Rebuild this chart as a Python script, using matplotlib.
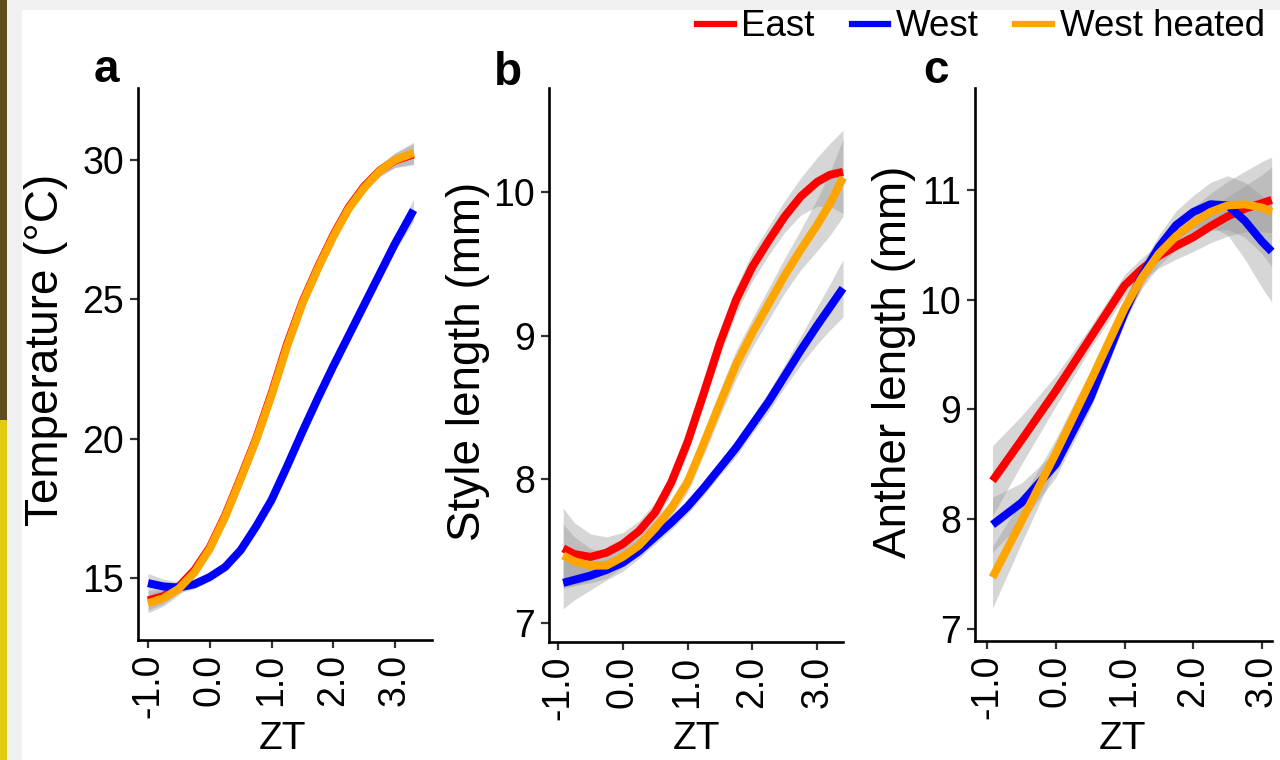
import matplotlib
matplotlib.use('Agg')
import matplotlib.pyplot as plt
from matplotlib.patches import Rectangle
from matplotlib.lines import Line2D

REGULAR = ['Liberation Sans', 'DejaVu Sans']
plt.rcParams['font.family'] = REGULAR

GROUPS = ['East', 'West', 'West heated']
COLORS = ['#ff0000', '#0000ff', '#ffa500']

ZT_TICKS = [-1.0, 0.0, 1.0, 2.0, 3.0]
ZT_LABELS = ['-1.0', '0.0', '1.0', '2.0', '3.0']

# a: temperature
zt_a = [-1.0, -0.75, -0.5, -0.25, 0.0, 0.25, 0.5, 0.75, 1.0, 1.25, 1.5, 1.75,
        2.0, 2.25, 2.5, 2.75, 3.0, 3.3]
temp_east = [14.2, 14.35, 14.7, 15.28, 16.1, 17.25, 18.6, 20.0, 21.62, 23.38, 24.9,
             26.15, 27.3, 28.3, 29.05, 29.62, 29.98, 30.2]
temp_west = [14.82, 14.7, 14.66, 14.78, 15.04, 15.4, 16.0, 16.85, 17.8, 19.0, 20.25,
             21.45, 22.6, 23.7, 24.8, 25.9, 27.0, 28.2]
temp_heated = [14.1, 14.28, 14.62, 15.2, 16.05, 17.2, 18.55, 19.95, 21.55, 23.3, 24.85,
               26.1, 27.25, 28.25, 29.0, 29.6, 30.0, 30.25]
temp_se_east = [0.35, 0.28, 0.22, 0.18, 0.15, 0.14, 0.13, 0.13, 0.13, 0.13, 0.13,
                0.13, 0.14, 0.15, 0.17, 0.2, 0.26, 0.38]
temp_se_west = [0.35, 0.26, 0.2, 0.16, 0.14, 0.13, 0.12, 0.12, 0.12, 0.12, 0.12,
                0.13, 0.14, 0.15, 0.17, 0.2, 0.26, 0.4]
temp_se_heated = [0.35, 0.28, 0.22, 0.18, 0.15, 0.14, 0.13, 0.13, 0.13, 0.13, 0.13,
                  0.13, 0.14, 0.15, 0.17, 0.2, 0.26, 0.38]

# b: style length
zt_b = [-0.92, -0.75, -0.5, -0.25, 0.0, 0.25, 0.5, 0.75, 1.0, 1.25, 1.5, 1.75,
        2.0, 2.25, 2.5, 2.75, 3.0, 3.2, 3.4]
style_east = [7.52, 7.48, 7.46, 7.49, 7.55, 7.64, 7.77, 7.98, 8.26, 8.6, 8.95, 9.25,
              9.48, 9.66, 9.83, 9.97, 10.07, 10.12, 10.14]
style_west = [7.28, 7.3, 7.33, 7.37, 7.42, 7.5, 7.6, 7.7, 7.81, 7.94, 8.08, 8.22,
              8.38, 8.54, 8.72, 8.9, 9.07, 9.2, 9.33]
style_heated = [7.47, 7.43, 7.4, 7.4, 7.46, 7.54, 7.66, 7.8, 7.98, 8.25, 8.53, 8.8,
                9.02, 9.22, 9.42, 9.6, 9.77, 9.92, 10.1]
style_se_east = [0.28, 0.22, 0.16, 0.11, 0.08, 0.07, 0.07, 0.07, 0.08, 0.08, 0.09,
                 0.09, 0.1, 0.1, 0.11, 0.13, 0.17, 0.22, 0.29]
style_se_west = [0.18, 0.14, 0.1, 0.07, 0.06, 0.05, 0.05, 0.05, 0.05, 0.05, 0.05,
                 0.06, 0.06, 0.07, 0.08, 0.1, 0.13, 0.16, 0.2]
style_se_heated = [0.22, 0.17, 0.12, 0.09, 0.07, 0.06, 0.06, 0.06, 0.07, 0.08, 0.09,
                   0.1, 0.1, 0.11, 0.12, 0.14, 0.18, 0.22, 0.27]

# c: anther length
zt_c = [-0.92, -0.5, 0.0, 0.5, 1.0, 1.25, 1.5, 1.75, 2.0, 2.25, 2.5, 2.75, 3.0, 3.14]
anther_east = [8.35, 8.72, 9.17, 9.65, 10.13, 10.28, 10.4, 10.49, 10.57, 10.67, 10.76,
               10.83, 10.88, 10.91]
anther_west = [7.95, 8.15, 8.5, 9.1, 9.88, 10.22, 10.48, 10.68, 10.8, 10.87, 10.86,
               10.72, 10.53, 10.44]
anther_heated = [7.47, 7.98, 8.6, 9.25, 9.92, 10.2, 10.42, 10.58, 10.7, 10.8, 10.86,
                 10.87, 10.84, 10.8]
anther_se_east = [0.32, 0.22, 0.14, 0.1, 0.1, 0.1, 0.11, 0.12, 0.13, 0.15, 0.18,
                  0.21, 0.26, 0.3]
anther_se_west = [0.25, 0.18, 0.12, 0.1, 0.1, 0.1, 0.11, 0.13, 0.15, 0.2, 0.27,
                  0.35, 0.42, 0.46]
anther_se_heated = [0.28, 0.2, 0.13, 0.1, 0.1, 0.1, 0.11, 0.12, 0.14, 0.17, 0.22,
                    0.3, 0.42, 0.5]


def draw_smooth(ax, x, series, errors):
    # ribbon then line per group, so later ribbons sit over earlier lines
    for y, se, color in zip(series, errors, COLORS):
        lo = [v - e for v, e in zip(y, se)]
        hi = [v + e for v, e in zip(y, se)]
        ax.fill_between(x, lo, hi, color='#999999', alpha=0.4, linewidth=0, clip_on=False)
        ax.plot(x, y, color=color, linewidth=5.8, solid_capstyle='butt',
                solid_joinstyle='round', clip_on=False)


def style_axes(ax, xlim, ylim, yticks):
    ax.set_xlim(xlim)
    ax.set_ylim(ylim)
    for side in ['top', 'right']:
        ax.spines[side].set_visible(False)
    for side in ['left', 'bottom']:
        ax.spines[side].set_linewidth(1.9)
        ax.spines[side].set_color('black')
    ax.set_xticks(ZT_TICKS)
    ax.set_xticklabels(ZT_LABELS, rotation=90)
    ax.set_yticks(yticks)
    ax.set_yticklabels([str(t) for t in yticks])
    ax.tick_params(length=6, width=1.6, color='#333333', labelsize=27, pad=4)
    ax.patch.set_alpha(0)


fig = plt.figure(figsize=(12.8, 7.6), dpi=100, facecolor='#f0f0f0')
fig.patches.append(Rectangle((22 / 1280, 0), 1, 750 / 760, transform=fig.transFigure,
                             facecolor='white', edgecolor='none', zorder=-5))
fig.patches.append(Rectangle((0, 0.447), 7 / 1280, 0.553, transform=fig.transFigure,
                             facecolor='#5e4c1c', edgecolor='none', zorder=-4))
fig.patches.append(Rectangle((0, 0), 7 / 1280, 0.447, transform=fig.transFigure,
                             facecolor='#e2cc12', edgecolor='none', zorder=-4))

ax_a = fig.add_axes([138 / 1280, 120 / 760, 294 / 1280, 552 / 760])
ax_b = fig.add_axes([549 / 1280, 118 / 760, 294 / 1280, 554 / 760])
ax_c = fig.add_axes([975 / 1280, 119 / 760, 297 / 1280, 553 / 760])

draw_smooth(ax_a, zt_a, [temp_east, temp_west, temp_heated],
            [temp_se_east, temp_se_west, temp_se_heated])
style_axes(ax_a, (-1.162, 3.599), (12.78, 32.58), [15, 20, 25, 30])

draw_smooth(ax_b, zt_b, [style_east, style_west, style_heated],
            [style_se_east, style_se_west, style_se_heated])
style_axes(ax_b, (-1.139, 3.40), (6.868, 10.724), [7, 8, 9, 10])

draw_smooth(ax_c, zt_c, [anther_east, anther_west, anther_heated],
            [anther_se_east, anther_se_west, anther_se_heated])
style_axes(ax_c, (-1.175, 3.145), (6.89, 11.93), [7, 8, 9, 10, 11])

# axis titles
fig.text(46 / 1280, 1 - 350 / 760, 'Temperature (°C)', rotation=90, fontsize=33,
         ha='center', va='center')
fig.text(468 / 1280, 1 - 361 / 760, 'Style length (mm)', rotation=90, fontsize=33,
         ha='center', va='center')
fig.text(894 / 1280, 1 - 362 / 760, 'Anther length (mm)', rotation=90, fontsize=33,
         ha='center', va='center')
for xc in [283, 696, 1123]:
    fig.text(xc / 1280, 1 - 739 / 760, 'ZT', fontsize=28, ha='center', va='center')

# panel letters
for xc, yc, letter in [(106, 70, 'a'), (508, 73, 'b'), (936, 71, 'c')]:
    fig.text(xc / 1280, 1 - yc / 760, letter, fontsize=33, fontweight='bold',
             ha='center', va='center')

handles = [Line2D([], [], color=c, linewidth=4.5) for c in COLORS]
fig.legend(handles, GROUPS, loc='center', bbox_to_anchor=(981 / 1280, 1 - 27 / 760),
           ncol=3, frameon=False, handlelength=1.0, handletextpad=0.2,
           columnspacing=1.0, prop={'size': 26.5})

fig.savefig('out.png', dpi=100, facecolor=fig.get_facecolor())
